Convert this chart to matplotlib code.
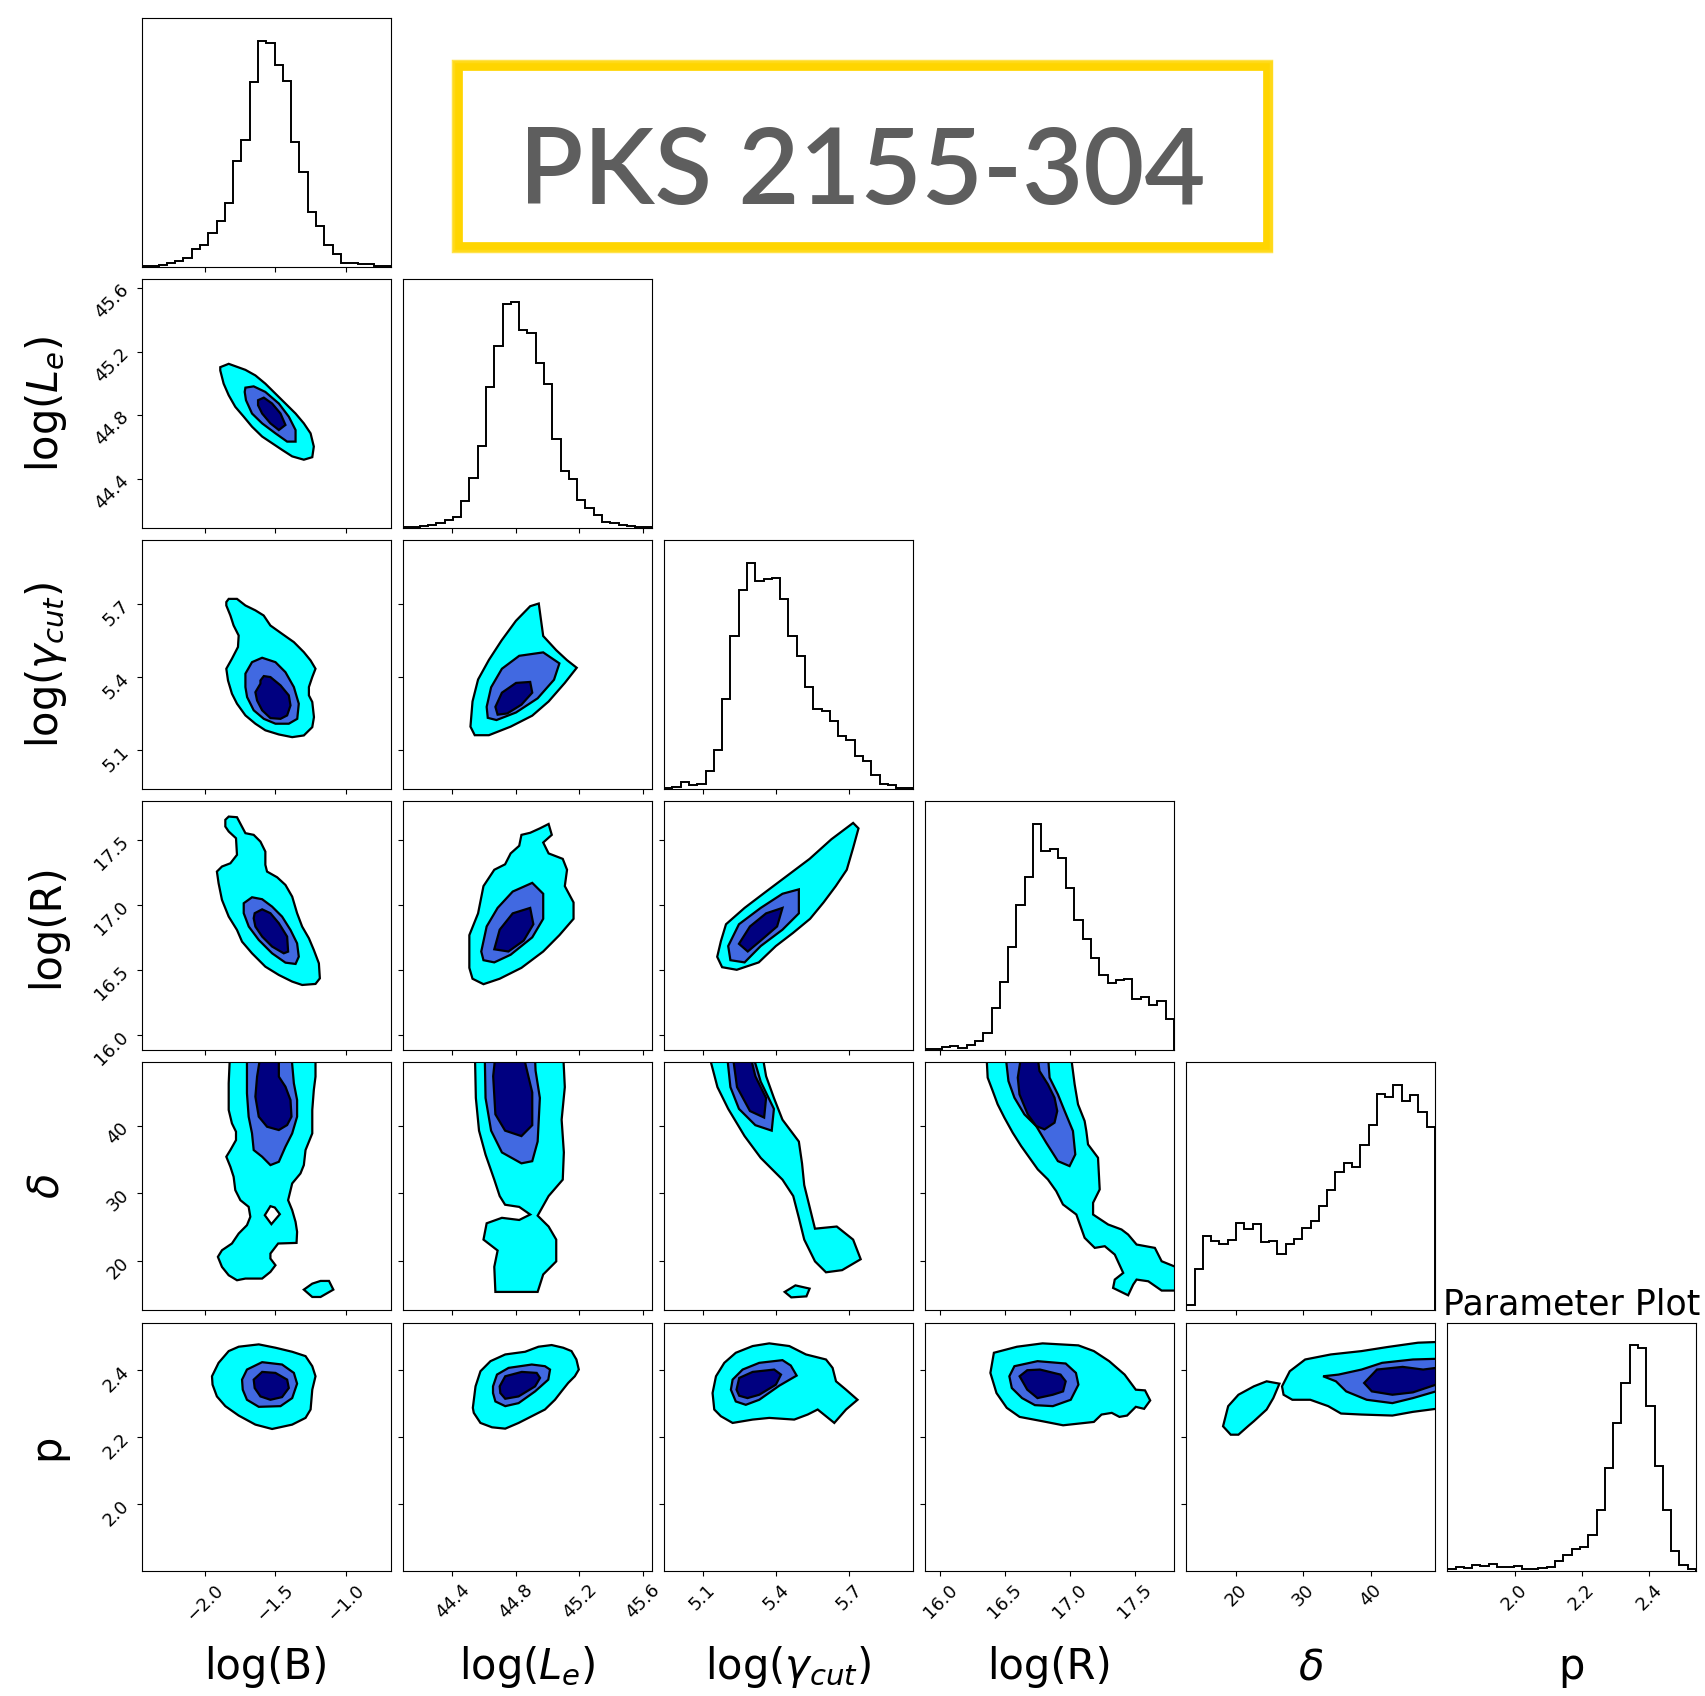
import numpy as np
import matplotlib.pyplot as plt
from matplotlib.patches import Rectangle

# parameter names, plot ranges and tick positions
labels = [r'log(B)', r'log($L_e$)', r'log($\gamma_{cut}$)', r'log(R)', r'$\delta$', 'p']
limits = [(-2.45, -0.68), (44.09, 45.655), (4.943, 5.96),
          (15.885, 17.8), (12.65, 49.5), (1.80, 2.54)]
ticks = [[-2.0, -1.5, -1.0], [44.4, 44.8, 45.2, 45.6], [5.1, 5.4, 5.7],
         [16.0, 16.5, 17.0, 17.5], [20, 30, 40], [2.0, 2.2, 2.4]]

# marginal histograms (30 bins across each range)
hist_B = [3, 3, 7, 12, 18, 27, 55, 67, 102, 138, 193, 319, 380, 555, 678,
          673, 607, 557, 375, 284, 164, 123, 65, 40, 12, 12, 10, 8, 2, 2]
hist_Le = [1, 3, 6, 9, 15, 23, 32, 79, 149, 244, 422, 544, 671, 677, 594,
           584, 494, 430, 267, 170, 145, 82, 59, 39, 17, 15, 7, 5, 2, 3]
hist_g = [2, 5, 19, 12, 15, 52, 117, 270, 457, 595, 677, 623, 628, 633, 570,
          458, 399, 305, 238, 233, 203, 158, 147, 98, 82, 42, 15, 10, 3, 3]
hist_R = [3, 3, 9, 10, 5, 15, 25, 50, 125, 202, 306, 432, 517, 677, 596,
          601, 574, 483, 388, 330, 276, 225, 200, 208, 211, 153, 157, 133, 145, 91]
hist_d = [15, 125, 223, 207, 199, 212, 263, 243, 258, 205, 208, 170, 200, 215, 248,
          267, 313, 360, 415, 442, 431, 495, 555, 649, 639, 677, 629, 647, 595, 549]
hist_p = [6, 14, 11, 20, 15, 22, 12, 13, 17, 6, 7, 10, 14, 30, 48,
          66, 74, 110, 185, 310, 445, 564, 677, 669, 497, 316, 184, 60, 20, 7]
histograms = [hist_B, hist_Le, hist_g, hist_R, hist_d, hist_p]

# credible-region outlines (x, y) in parameter units
le_b_outer = [(-1.893, 45.102), (-1.833, 45.123), (-1.714, 45.085), (-1.643, 45.050), (-1.572, 44.998),
              (-1.500, 44.935), (-1.429, 44.873), (-1.357, 44.810), (-1.298, 44.748), (-1.250, 44.685),
              (-1.227, 44.602), (-1.238, 44.535), (-1.298, 44.519), (-1.381, 44.540), (-1.453, 44.581),
              (-1.524, 44.623), (-1.595, 44.665), (-1.667, 44.727), (-1.726, 44.790), (-1.786, 44.852),
              (-1.833, 44.925), (-1.869, 44.998), (-1.893, 45.081)]
le_b_mid = [(-1.714, 44.973), (-1.655, 44.981), (-1.572, 44.946), (-1.476, 44.873), (-1.405, 44.790),
            (-1.357, 44.706), (-1.357, 44.633), (-1.417, 44.633), (-1.500, 44.685), (-1.595, 44.748),
            (-1.667, 44.810), (-1.710, 44.894), (-1.719, 44.946)]
le_b_core = [(-1.624, 44.894), (-1.583, 44.910), (-1.524, 44.873), (-1.464, 44.810), (-1.429, 44.738),
             (-1.476, 44.706), (-1.536, 44.748), (-1.595, 44.810), (-1.624, 44.862)]

g_b_outer = [(-1.850, 5.707), (-1.833, 5.720), (-1.774, 5.720), (-1.714, 5.693), (-1.643, 5.673),
             (-1.584, 5.652), (-1.536, 5.611), (-1.453, 5.577), (-1.369, 5.543), (-1.298, 5.502),
             (-1.250, 5.468), (-1.215, 5.434), (-1.238, 5.400), (-1.262, 5.359), (-1.262, 5.325),
             (-1.238, 5.298), (-1.226, 5.236), (-1.238, 5.195), (-1.298, 5.161), (-1.381, 5.154),
             (-1.476, 5.165), (-1.572, 5.182), (-1.643, 5.209), (-1.714, 5.243), (-1.774, 5.291),
             (-1.810, 5.332), (-1.838, 5.386), (-1.850, 5.434), (-1.810, 5.475), (-1.767, 5.523),
             (-1.762, 5.570), (-1.798, 5.611), (-1.821, 5.652), (-1.850, 5.693)]
g_b_mid = [(-1.714, 5.414), (-1.667, 5.461), (-1.595, 5.479), (-1.500, 5.461), (-1.429, 5.420),
           (-1.369, 5.359), (-1.334, 5.291), (-1.345, 5.229), (-1.405, 5.209), (-1.500, 5.209),
           (-1.583, 5.229), (-1.655, 5.264), (-1.702, 5.318), (-1.714, 5.359)]
g_b_core = [(-1.607, 5.386), (-1.583, 5.404), (-1.536, 5.400), (-1.464, 5.366), (-1.405, 5.325),
            (-1.393, 5.284), (-1.417, 5.243), (-1.464, 5.229), (-1.536, 5.232), (-1.595, 5.264),
            (-1.631, 5.304), (-1.643, 5.338), (-1.607, 5.373)]

r_b_outer = [(-1.857, 17.656), (-1.833, 17.681), (-1.774, 17.676), (-1.714, 17.553), (-1.655, 17.540),
             (-1.607, 17.488), (-1.572, 17.411), (-1.572, 17.309), (-1.560, 17.257), (-1.488, 17.213),
             (-1.429, 17.154), (-1.381, 17.064), (-1.346, 16.936), (-1.310, 16.833), (-1.262, 16.743),
             (-1.227, 16.653), (-1.191, 16.550), (-1.184, 16.434), (-1.215, 16.391), (-1.310, 16.383),
             (-1.381, 16.409), (-1.476, 16.460), (-1.572, 16.524), (-1.667, 16.627), (-1.738, 16.717),
             (-1.774, 16.807), (-1.833, 16.910), (-1.881, 17.039), (-1.905, 17.167), (-1.917, 17.257),
             (-1.881, 17.296), (-1.821, 17.321), (-1.774, 17.386), (-1.781, 17.514), (-1.833, 17.566),
             (-1.857, 17.604)]
r_b_mid = [(-1.726, 17.013), (-1.667, 17.059), (-1.595, 17.044), (-1.524, 16.987), (-1.453, 16.910),
           (-1.393, 16.807), (-1.346, 16.704), (-1.334, 16.601), (-1.357, 16.545), (-1.429, 16.555),
           (-1.524, 16.627), (-1.619, 16.730), (-1.690, 16.833), (-1.726, 16.936)]
r_b_core = [(-1.648, 16.936), (-1.595, 16.966), (-1.536, 16.936), (-1.476, 16.859), (-1.417, 16.756),
            (-1.410, 16.640), (-1.441, 16.627), (-1.524, 16.679), (-1.595, 16.756), (-1.643, 16.833),
            (-1.655, 16.897)]

d_b_outer = [(-1.821, 52), (-1.833, 46.34), (-1.833, 42.38), (-1.810, 40.40), (-1.781, 39.16),
             (-1.781, 37.92), (-1.821, 36.44), (-1.850, 35.45), (-1.821, 33.96), (-1.798, 32.48),
             (-1.786, 30.50), (-1.750, 29.01), (-1.691, 28.02), (-1.679, 26.54), (-1.703, 25.30),
             (-1.762, 24.06), (-1.810, 22.58), (-1.881, 21.58), (-1.910, 20.60), (-1.881, 19.11),
             (-1.833, 17.87), (-1.774, 17.13), (-1.714, 17.38), (-1.595, 17.38), (-1.536, 18.37),
             (-1.500, 19.36), (-1.536, 20.35), (-1.536, 21.09), (-1.481, 22.58), (-1.350, 22.67),
             (-1.346, 24.31), (-1.357, 25.79), (-1.381, 27.53), (-1.410, 29.01), (-1.381, 31.49),
             (-1.322, 32.97), (-1.298, 34.21), (-1.286, 36.44), (-1.238, 38.91), (-1.238, 42.38),
             (-1.227, 45.35), (-1.215, 47.33), (-1.215, 52)]
d_b_hole = [(-1.576, 26.78), (-1.536, 28.12), (-1.505, 27.92), (-1.469, 26.93), (-1.529, 25.45)]
d_b_island = [(-1.298, 15.74), (-1.238, 16.63), (-1.179, 17.03), (-1.119, 17.03), (-1.088, 15.74),
              (-1.179, 14.65), (-1.238, 14.65)]
d_b_mid = [(-1.703, 52), (-1.703, 44.85), (-1.691, 41.39), (-1.667, 38.91), (-1.655, 36.44),
           (-1.595, 35.45), (-1.536, 34.21), (-1.476, 34.70), (-1.429, 36.93), (-1.381, 38.91),
           (-1.346, 41.39), (-1.346, 43.86), (-1.369, 46.34), (-1.393, 52)]
d_b_core = [(-1.595, 52), (-1.631, 47.33), (-1.643, 44.36), (-1.619, 41.39), (-1.560, 39.90),
            (-1.476, 39.41), (-1.417, 40.15), (-1.386, 41.39), (-1.393, 43.86), (-1.429, 45.84),
            (-1.476, 47.33), (-1.476, 52)]

p_b_outer = [(-1.952, 2.381), (-1.905, 2.421), (-1.833, 2.456), (-1.762, 2.469), (-1.619, 2.476),
             (-1.500, 2.466), (-1.381, 2.454), (-1.286, 2.441), (-1.238, 2.411), (-1.215, 2.381),
             (-1.238, 2.341), (-1.250, 2.282), (-1.286, 2.257), (-1.381, 2.237), (-1.524, 2.224),
             (-1.643, 2.237), (-1.762, 2.264), (-1.857, 2.292), (-1.917, 2.321), (-1.948, 2.356)]
p_b_mid = [(-1.738, 2.371), (-1.703, 2.401), (-1.595, 2.423), (-1.453, 2.416), (-1.369, 2.391),
           (-1.346, 2.359), (-1.381, 2.316), (-1.464, 2.292), (-1.619, 2.290), (-1.703, 2.311),
           (-1.733, 2.341)]
p_b_core = [(-1.655, 2.371), (-1.595, 2.394), (-1.500, 2.391), (-1.417, 2.371), (-1.405, 2.346),
            (-1.453, 2.319), (-1.536, 2.311), (-1.607, 2.321), (-1.648, 2.346)]

g_le_outer = [(44.514, 5.197), (44.527, 5.300), (44.562, 5.390), (44.630, 5.470), (44.710, 5.550),
              (44.800, 5.630), (44.890, 5.690), (44.944, 5.701), (44.958, 5.634), (44.972, 5.568),
              (45.054, 5.510), (45.122, 5.469), (45.183, 5.438), (45.108, 5.376), (45.006, 5.300),
              (44.903, 5.242), (44.767, 5.197), (44.630, 5.162), (44.541, 5.162)]
g_le_mid = [(44.616, 5.278), (44.644, 5.358), (44.712, 5.434), (44.821, 5.487), (44.972, 5.501),
            (45.074, 5.456), (45.040, 5.389), (44.937, 5.313), (44.801, 5.255), (44.678, 5.224),
            (44.623, 5.233)]
g_le_core = [(44.671, 5.278), (44.712, 5.336), (44.801, 5.376), (44.890, 5.380), (44.903, 5.336),
             (44.835, 5.287), (44.746, 5.251), (44.685, 5.246)]

r_le_outer = [(44.507, 16.515), (44.507, 16.767), (44.562, 16.935), (44.596, 17.145), (44.664, 17.271),
              (44.732, 17.313), (44.767, 17.397), (44.821, 17.456), (44.835, 17.540), (44.890, 17.556),
              (44.951, 17.590), (45.006, 17.624), (45.026, 17.540), (44.972, 17.481), (45.006, 17.397),
              (45.095, 17.355), (45.122, 17.271), (45.108, 17.145), (45.163, 17.019), (45.163, 16.893),
              (45.074, 16.767), (44.972, 16.641), (44.835, 16.515), (44.698, 16.431), (44.596, 16.389),
              (44.527, 16.431)]
r_le_mid = [(44.582, 16.641), (44.616, 16.834), (44.685, 16.977), (44.780, 17.103), (44.903, 17.170),
            (44.972, 17.086), (44.972, 16.893), (44.903, 16.750), (44.767, 16.616), (44.664, 16.557),
            (44.596, 16.574)]
r_le_core = [(44.664, 16.658), (44.698, 16.809), (44.780, 16.935), (44.890, 16.977), (44.910, 16.851),
             (44.849, 16.725), (44.753, 16.641)]

d_le_outer = [(44.541, 52), (44.548, 44.17), (44.568, 39.32), (44.609, 35.76), (44.664, 32.05),
              (44.698, 29.62), (44.732, 28.33), (44.821, 28.01), (44.890, 26.88), (44.821, 26.07),
              (44.712, 26.39), (44.616, 25.58), (44.596, 23.16), (44.685, 21.54), (44.664, 19.12),
              (44.671, 15.40), (44.937, 15.40), (44.972, 17.99), (45.054, 19.93), (45.054, 23.16),
              (45.006, 25.10), (44.937, 26.71), (45.006, 29.62), (45.095, 32.05), (45.102, 36.09),
              (45.088, 40.94), (45.108, 45.78), (45.095, 52)]
d_le_mid = [(44.603, 52), (44.609, 44.17), (44.644, 39.32), (44.712, 36.09), (44.835, 34.47),
            (44.903, 34.79), (44.937, 37.70), (44.951, 44.17), (44.924, 48.21), (44.917, 52)]
d_le_core = [(44.678, 52), (44.657, 47.40), (44.671, 41.74), (44.732, 39.32), (44.835, 38.51),
             (44.903, 40.13), (44.903, 44.98), (44.862, 49.02), (44.835, 52)]

p_le_outer = [(44.529, 2.287), (44.546, 2.351), (44.577, 2.396), (44.640, 2.426), (44.733, 2.446),
              (44.858, 2.454), (44.942, 2.469), (45.025, 2.474), (45.098, 2.466), (45.150, 2.456),
              (45.181, 2.431), (45.196, 2.401), (45.171, 2.381), (45.129, 2.361), (45.087, 2.336),
              (45.046, 2.311), (44.983, 2.282), (44.900, 2.262), (44.817, 2.242), (44.733, 2.225),
              (44.650, 2.229), (44.577, 2.242), (44.535, 2.272)]
p_le_mid = [(44.656, 2.351), (44.681, 2.386), (44.754, 2.406), (44.900, 2.416), (44.983, 2.411),
            (45.015, 2.401), (45.004, 2.371), (44.921, 2.336), (44.817, 2.301), (44.733, 2.292),
            (44.671, 2.306), (44.656, 2.331)]
p_le_core = [(44.698, 2.351), (44.733, 2.381), (44.837, 2.394), (44.931, 2.391), (44.952, 2.376),
             (44.921, 2.351), (44.817, 2.321), (44.733, 2.314), (44.702, 2.331)]

r_g_outer = [(5.160, 16.600), (5.175, 16.720), (5.196, 16.851), (5.272, 16.977), (5.360, 17.103),
             (5.449, 17.229), (5.538, 17.355), (5.627, 17.506), (5.716, 17.632), (5.738, 17.590),
             (5.716, 17.439), (5.690, 17.271), (5.645, 17.145), (5.595, 17.019), (5.540, 16.893),
             (5.470, 16.784), (5.400, 16.683), (5.330, 16.557), (5.240, 16.500), (5.180, 16.520)]
r_g_mid = [(5.205, 16.683), (5.249, 16.851), (5.338, 16.977), (5.427, 17.086), (5.494, 17.120),
           (5.494, 16.935), (5.427, 16.809), (5.338, 16.683), (5.272, 16.557), (5.214, 16.574)]
r_g_core = [(5.249, 16.700), (5.294, 16.834), (5.360, 16.935), (5.427, 16.977), (5.405, 16.834),
            (5.338, 16.725), (5.285, 16.641)]

d_g_outer = [(5.116, 52), (5.161, 45.78), (5.205, 42.55), (5.272, 38.51), (5.338, 35.28),
             (5.427, 32.05), (5.471, 29.62), (5.494, 26.39), (5.516, 23.16), (5.560, 19.93),
             (5.605, 18.31), (5.671, 18.63), (5.747, 20.25), (5.716, 23.16), (5.649, 25.10),
             (5.560, 24.78), (5.538, 28.01), (5.516, 31.24), (5.507, 34.47), (5.494, 37.70),
             (5.427, 40.94), (5.392, 44.17), (5.360, 47.40), (5.338, 52)]
d_g_island = [(5.436, 15.40), (5.480, 16.37), (5.538, 15.89), (5.525, 14.74), (5.463, 14.59)]
d_g_mid = [(5.196, 52), (5.214, 45.78), (5.249, 42.55), (5.316, 40.13), (5.383, 39.32),
           (5.392, 42.55), (5.338, 46.59), (5.294, 52)]
d_g_core = [(5.218, 52), (5.241, 45.78), (5.294, 42.23), (5.352, 41.26), (5.360, 44.17),
            (5.316, 47.40), (5.285, 52)]

p_g_outer = [(5.148, 2.282), (5.141, 2.331), (5.155, 2.381), (5.189, 2.421), (5.236, 2.451),
             (5.305, 2.471), (5.373, 2.479), (5.455, 2.471), (5.523, 2.446), (5.605, 2.431),
             (5.632, 2.406), (5.646, 2.366), (5.687, 2.341), (5.734, 2.311), (5.687, 2.282),
             (5.639, 2.242), (5.571, 2.282), (5.530, 2.267), (5.475, 2.252), (5.373, 2.257),
             (5.305, 2.252), (5.223, 2.242), (5.175, 2.262)]
p_g_mid = [(5.216, 2.341), (5.223, 2.371), (5.264, 2.401), (5.332, 2.421), (5.427, 2.429),
           (5.461, 2.413), (5.485, 2.383), (5.414, 2.353), (5.332, 2.311), (5.277, 2.296),
           (5.236, 2.306)]
p_g_core = [(5.239, 2.341), (5.250, 2.376), (5.305, 2.394), (5.393, 2.401), (5.421, 2.386),
            (5.400, 2.356), (5.332, 2.326), (5.284, 2.316), (5.250, 2.323)]

d_r_outer = [(16.353, 52), (16.366, 47.18), (16.405, 45.20), (16.443, 43.22), (16.495, 41.24),
             (16.559, 39.01), (16.624, 37.03), (16.688, 35.30), (16.752, 33.57), (16.830, 32.08),
             (16.894, 30.35), (16.946, 28.37), (17.049, 26.88), (17.113, 23.42), (17.191, 21.93),
             (17.268, 22.18), (17.345, 20.94), (17.410, 18.22), (17.345, 17.23), (17.332, 15.99),
             (17.448, 14.90), (17.487, 16.49), (17.513, 17.23), (17.603, 16.98), (17.706, 15.60),
             (17.900, 15.60), (17.900, 19.21), (17.801, 19.21), (17.706, 19.95), (17.654, 21.93),
             (17.513, 22.43), (17.448, 23.91), (17.397, 24.66), (17.294, 25.40), (17.178, 26.88),
             (17.178, 28.62), (17.229, 30.60), (17.216, 35.30), (17.139, 37.28), (17.126, 39.26),
             (17.113, 40.74), (17.062, 43.22), (17.036, 46.19), (16.997, 52)]
d_r_mid = [(16.495, 52), (16.526, 46.68), (16.572, 44.21), (16.649, 41.73), (16.740, 40.00),
           (16.817, 37.53), (16.907, 34.80), (16.997, 34.06), (17.041, 35.79), (17.023, 39.26),
           (16.959, 42.23), (16.907, 44.70), (16.843, 47.18), (16.825, 52)]
d_r_core = [(16.637, 52), (16.598, 47.18), (16.611, 44.70), (16.675, 41.73), (16.740, 40.00),
            (16.804, 39.51), (16.881, 40.50), (16.902, 42.23), (16.881, 44.21), (16.830, 46.19),
            (16.765, 48.17), (16.740, 52)]

p_r_outer = [(16.387, 2.391), (16.414, 2.451), (16.592, 2.469), (16.789, 2.479), (17.065, 2.473),
             (17.184, 2.456), (17.302, 2.426), (17.421, 2.386), (17.507, 2.341), (17.578, 2.339),
             (17.618, 2.309), (17.571, 2.284), (17.507, 2.290), (17.440, 2.264), (17.381, 2.260),
             (17.322, 2.272), (17.243, 2.267), (17.184, 2.245), (16.947, 2.235), (16.789, 2.247),
             (16.612, 2.260), (16.513, 2.287), (16.434, 2.331)]
p_r_mid = [(16.533, 2.381), (16.572, 2.411), (16.750, 2.426), (16.967, 2.419), (17.046, 2.391),
           (17.065, 2.356), (17.006, 2.311), (16.868, 2.292), (16.730, 2.295), (16.631, 2.316),
           (16.552, 2.346)]
p_r_core = [(16.612, 2.381), (16.671, 2.399), (16.769, 2.401), (16.927, 2.386), (16.967, 2.366),
            (16.947, 2.336), (16.868, 2.326), (16.750, 2.316), (16.671, 2.341)]

p_d_island = [(18.10, 2.232), (18.86, 2.292), (20.38, 2.326), (22.66, 2.351), (24.56, 2.366),
              (26.46, 2.359), (25.55, 2.316), (24.56, 2.282), (22.66, 2.247), (21.90, 2.234),
              (20.38, 2.207), (19.24, 2.207)]
p_d_outer = [(26.84, 2.351), (27.99, 2.396), (30.27, 2.431), (34.07, 2.446), (38.63, 2.456),
             (42.43, 2.468), (47.00, 2.481), (49.66, 2.483), (52, 2.483), (52, 2.284),
             (49.66, 2.284), (46.24, 2.275), (43.20, 2.264), (38.63, 2.267), (35.59, 2.270),
             (33.69, 2.292), (31.03, 2.311), (28.37, 2.311), (27.07, 2.326)]
p_d_mid = [(32.93, 2.381), (35.21, 2.386), (38.63, 2.401), (41.67, 2.421), (46.24, 2.431),
           (49.66, 2.433), (52, 2.433), (52, 2.336), (49.66, 2.336), (46.24, 2.316),
           (43.20, 2.301), (39.39, 2.311), (36.35, 2.336), (34.83, 2.366)]
p_d_core = [(39.01, 2.361), (40.91, 2.401), (44.72, 2.409), (47.76, 2.401), (49.66, 2.406),
            (52, 2.406), (52, 2.356), (49.66, 2.356), (46.24, 2.333), (43.20, 2.326),
            (40.15, 2.336)]

fill_colors = {'outer': 'cyan', 'hole': 'white', 'mid': 'royalblue', 'core': 'navy'}

regions = {
    (1, 0): [('outer', le_b_outer), ('mid', le_b_mid), ('core', le_b_core)],
    (2, 0): [('outer', g_b_outer), ('mid', g_b_mid), ('core', g_b_core)],
    (3, 0): [('outer', r_b_outer), ('mid', r_b_mid), ('core', r_b_core)],
    (4, 0): [('outer', d_b_outer), ('outer', d_b_island), ('hole', d_b_hole),
             ('mid', d_b_mid), ('core', d_b_core)],
    (5, 0): [('outer', p_b_outer), ('mid', p_b_mid), ('core', p_b_core)],
    (2, 1): [('outer', g_le_outer), ('mid', g_le_mid), ('core', g_le_core)],
    (3, 1): [('outer', r_le_outer), ('mid', r_le_mid), ('core', r_le_core)],
    (4, 1): [('outer', d_le_outer), ('mid', d_le_mid), ('core', d_le_core)],
    (5, 1): [('outer', p_le_outer), ('mid', p_le_mid), ('core', p_le_core)],
    (3, 2): [('outer', r_g_outer), ('mid', r_g_mid), ('core', r_g_core)],
    (4, 2): [('outer', d_g_outer), ('outer', d_g_island), ('mid', d_g_mid), ('core', d_g_core)],
    (5, 2): [('outer', p_g_outer), ('mid', p_g_mid), ('core', p_g_core)],
    (4, 3): [('outer', d_r_outer), ('mid', d_r_mid), ('core', d_r_core)],
    (5, 3): [('outer', p_r_outer), ('mid', p_r_mid), ('core', p_r_core)],
    (5, 4): [('outer', p_d_island), ('outer', p_d_outer), ('mid', p_d_mid), ('core', p_d_core)],
}

n = len(labels)
fig = plt.figure(figsize=(17.05, 16.96), dpi=100)
gs = fig.add_gridspec(n, n, left=0.0833, right=0.9947, top=0.9891, bottom=0.0735,
                      wspace=0.05, hspace=0.05)

for i in range(n):
    for j in range(i + 1):
        ax = fig.add_subplot(gs[i, j])
        lo, hi = limits[j]
        if i == j:
            counts = np.array(histograms[i], dtype=float)
            edges = np.linspace(lo, hi, len(counts) + 1)
            centers = 0.5 * (edges[:-1] + edges[1:])
            ax.hist(centers, bins=edges, weights=counts, histtype='step',
                    color='black', lw=1.4)
            ax.set_ylim(0, 1.1 * counts.max())
            ax.set_yticks([])
        else:
            for level, pts in regions[(i, j)]:
                xs, ys = np.array(pts).T
                ax.fill(xs, ys, facecolor=fill_colors[level], edgecolor='black', lw=1.6)
            ax.set_ylim(*limits[i])
            ax.set_yticks(ticks[i])
            ax.ticklabel_format(useOffset=False)
            if j == 0:
                ax.tick_params(axis='y', labelsize=13, labelrotation=45)
                ax.set_ylabel(labels[i], fontsize=30, va='center')
                ax.yaxis.set_label_coords(-0.385, 0.5)
            else:
                ax.tick_params(axis='y', labelleft=False)
        ax.set_xlim(lo, hi)
        ax.set_xticks(ticks[j])
        if i == n - 1:
            ax.ticklabel_format(axis='x', useOffset=False)
            ax.tick_params(axis='x', labelsize=13, labelrotation=45)
            ax.set_xlabel(labels[j], fontsize=30, va='center')
            ax.xaxis.set_label_coords(0.5, -0.385)
        else:
            ax.tick_params(axis='x', labelbottom=False)
        if i == j == n - 1:
            ax.set_title('Parameter Plot', fontsize=25)

# source name banner with a brushed yellow frame
banner = fig.add_axes([0.2686, 0.8544, 0.4751, 0.1067])
banner.axis('off')
banner.set_xlim(0, 1)
banner.set_ylim(0, 1)
banner.add_patch(Rectangle((0, 0), 1, 1, fill=False, edgecolor='#FFD500', lw=7, clip_on=False))
banner.add_patch(Rectangle((-0.006, -0.02), 1.01, 1.045, fill=False, edgecolor='#FFDB1F',
                           lw=2.5, alpha=0.8, clip_on=False))
fig.text(0.506, 0.8797, 'PKS 2155-304', fontsize=76, color='#5e5e5e',
         family=['Lato', 'DejaVu Sans'], weight='semibold', ha='center', va='baseline')

fig.savefig('out.png', dpi=100)
